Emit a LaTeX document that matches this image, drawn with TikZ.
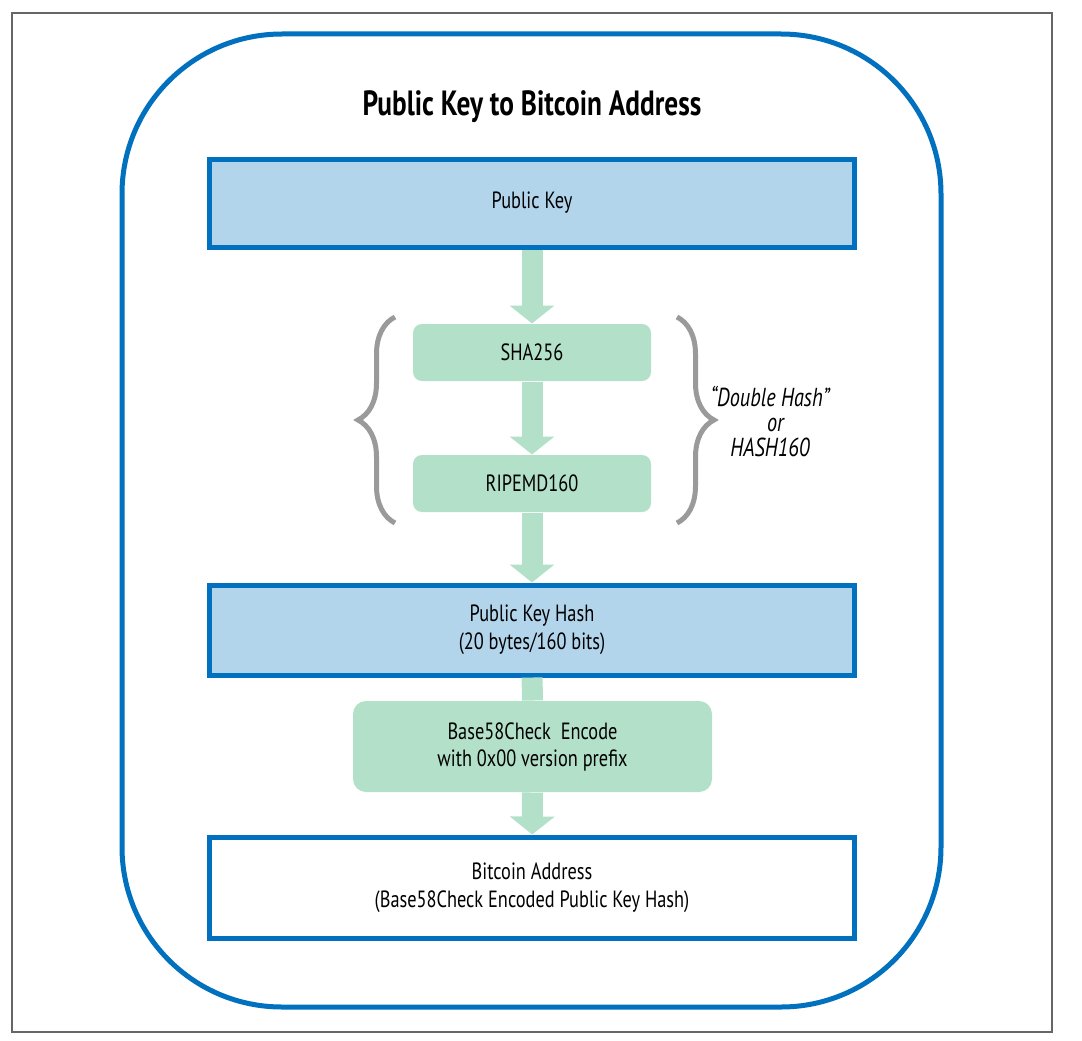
\documentclass[tikz,border=0pt]{standalone}
\usepackage{fontspec}
\setmainfont{PT Sans}[FakeStretch=0.78]
\usepackage{xcolor}
\usepackage{tikz}
\usetikzlibrary{arrows.meta, decorations.pathreplacing}

\definecolor{keyblue}{HTML}{0070BF}
\definecolor{keyfill}{HTML}{B3D5EC}
\definecolor{hashgreen}{HTML}{B3E0C8}
\definecolor{bracegray}{HTML}{9A9A9A}
\definecolor{framegray}{HTML}{666666}

\begin{document}
\begin{tikzpicture}[x=1pt, y=-1pt, line width=1pt,
    keybox/.style={draw=keyblue, line width=5pt, fill=keyfill, minimum width=645pt,
      inner sep=0pt, align=center, font=\fontsize{23.5}{28}\selectfont},
    hashbox/.style={fill=hashgreen, rounded corners=9pt, minimum width=238pt,
      minimum height=57pt, inner sep=0pt, align=center, font=\fontsize{23.5}{27}\selectfont},
    flow/.style={draw=hashgreen, line width=21pt},
    flowtip/.style={flow, -{Triangle[width=44pt, length=18pt]}},
    bracket/.style={draw=bracegray, line width=5pt, decorate,
      decoration={brace, amplitude=37pt}}]
    \useasboundingbox (0, 0) rectangle (1082, 1041);

    % draw outer frame and rounded panel
    \draw[color=framegray, line width=1.2pt] (12, 13) rectangle (1052, 1032);
    \draw[color=keyblue, line width=5pt, rounded corners=160pt] (122, 34) rectangle (941, 1007);

    % title
    \node (title) at (532, 107) {\fontsize{35}{38}\selectfont\bfseries Public Key to Bitcoin Address};

    % boxes
    \node[keybox, minimum height=88pt] (pubkey) at (532, 203) {Public Key};
    \node[hashbox] (sha) at (532, 352.5) {SHA256};
    \node[hashbox] (ripemd) at (532, 483.5) {RIPEMD160};
    \node[keybox, minimum height=90pt] (pkhash) at (532, 630) {Public Key Hash\\(20 bytes/160 bits)};
    \node[hashbox, rounded corners=13pt, minimum width=359pt, minimum height=91pt] (encode)
      at (532.5, 746.5) {Base58Check\ \ Encode\\with 0x00 version prefix};
    \node[keybox, fill=white, minimum height=101pt] (address) at (532, 887.5)
      {Bitcoin Address\\(Base58Check Encoded Public Key Hash)};

    % draw arrows
    \draw[flowtip] (pubkey) -- (sha);
    \draw[flowtip] (sha) -- (ripemd);
    \draw[flowtip] (ripemd) -- (pkhash);
    \draw[flow] (pkhash) -- (encode);
    \draw[flowtip] (encode) -- (address);

    % draw braces
    \draw[bracket] (395, 523) -- (395, 317);
    \draw[bracket] (677, 317) -- (677, 523);
    \node[align=center, font=\fontsize{26}{25}\selectfont\itshape] (hashlabel) at (770, 422)
      {“Double Hash”\\\ \ or\\HASH160};
\end{tikzpicture}
\end{document}
